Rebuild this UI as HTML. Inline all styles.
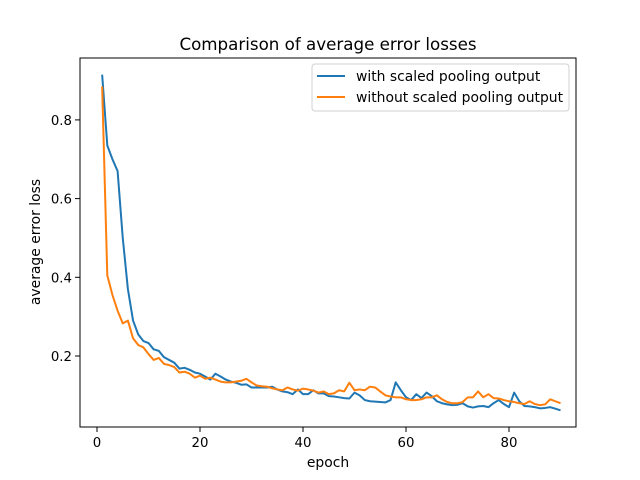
<!DOCTYPE html>
<html><head><meta charset="utf-8"><style>
body{margin:0;background:#fff;}
svg{display:block;font-family:"DejaVu Sans","Liberation Sans",sans-serif;}
</style></head><body>
<svg id="chart" width="640" height="480" viewBox="0 0 640 480">
<rect width="640" height="480" fill="#fff"/>
<text x="328" y="50" font-size="16.7" text-anchor="middle">Comparison of average error losses</text>
<g id="plot"></g>
<rect x="80" y="58" width="496" height="369" fill="none" stroke="#000" stroke-width="1"/>
<text x="328" y="467" font-size="13.9" text-anchor="middle">epoch</text>
<text transform="translate(40,242) rotate(-90)" font-size="13.9" text-anchor="middle">average error loss</text>
<g>
<rect x="312" y="64" width="257" height="47" rx="3" fill="#fff" stroke="#ccc" opacity="0.9"/>
<line x1="317" y1="76" x2="345" y2="76" stroke="#1f77b4" stroke-width="2"/>
<text x="356" y="81" font-size="13.9">with scaled pooling output</text>
<line x1="317" y1="97" x2="345" y2="97" stroke="#ff7f0e" stroke-width="2"/>
<text x="356" y="102" font-size="13.9">without scaled pooling output</text>
</g>
</svg>
<script>
const xTicks=[0,20,40,60,80];
const yTicks=[0.2,0.4,0.6,0.8];
const yTickLabels=["0.2","0.4","0.6","0.8"];
const scaledLoss=[0.915,0.735,0.70,0.67,0.50,0.37,0.29,0.255,0.238,0.233,0.217,0.213,0.197,0.19,0.183,0.168,0.17,0.165,0.158,0.155,0.148,0.14,0.155,0.148,0.14,0.135,0.132,0.127,0.128,0.12,0.12,0.12,0.12,0.122,0.115,0.11,0.108,0.103,0.115,0.103,0.103,0.113,0.105,0.105,0.098,0.097,0.095,0.093,0.092,0.107,0.1,0.088,0.085,0.084,0.083,0.082,0.088,0.133,0.113,0.095,0.088,0.103,0.093,0.107,0.098,0.085,0.08,0.077,0.075,0.076,0.08,0.072,0.069,0.072,0.073,0.07,0.08,0.088,0.078,0.07,0.107,0.085,0.073,0.072,0.07,0.067,0.068,0.07,0.066,0.062];
const unscaledLoss=[0.885,0.405,0.355,0.315,0.283,0.29,0.245,0.228,0.222,0.205,0.19,0.195,0.18,0.177,0.172,0.158,0.16,0.155,0.145,0.15,0.142,0.145,0.14,0.135,0.133,0.133,0.135,0.137,0.142,0.133,0.125,0.123,0.122,0.118,0.115,0.113,0.12,0.115,0.112,0.117,0.115,0.112,0.107,0.11,0.103,0.105,0.113,0.11,0.132,0.113,0.115,0.113,0.122,0.12,0.11,0.1,0.097,0.095,0.095,0.09,0.088,0.088,0.09,0.095,0.095,0.1,0.09,0.083,0.08,0.08,0.083,0.095,0.095,0.11,0.095,0.103,0.093,0.092,0.088,0.085,0.083,0.08,0.078,0.085,0.078,0.075,0.077,0.09,0.085,0.08];
const NS="http://www.w3.org/2000/svg";
const xs=v=>97+v*5.15;
const ys=v=>434.7-v*393.5;
const g=document.getElementById('plot');
function mk(t,a){const e=document.createElementNS(NS,t);for(const k in a)e.setAttribute(k,a[k]);return e;}
xTicks.forEach(t=>{
  const l=mk('line',{x1:xs(t),x2:xs(t),y1:427,y2:432,stroke:'#000'});
  
  
  g.appendChild(l);
  const tx=mk('text',{x:xs(t),y:447,'font-size':13.3,'text-anchor':'middle'});tx.textContent=t;
  
  
  g.appendChild(tx);
});
yTicks.forEach((t,i)=>{
  const l=mk('line',{x1:75,x2:80,y1:ys(t),y2:ys(t),stroke:'#000'});
  
  
  g.appendChild(l);
  const tx=mk('text',{x:72,y:ys(t)+5,'font-size':13.3,'text-anchor':'end'});tx.textContent=yTickLabels[i];
  
  
  g.appendChild(tx);
});
function line(data,color,name){
  const p=mk('polyline',{points:data.map((v,i)=>xs(i+1)+','+ys(v)).join(' '),fill:'none',stroke:color,'stroke-width':2,'stroke-linejoin':'round'});
  
  
  g.appendChild(p);
}
line(scaledLoss,'#1f77b4','scaled-loss-line');
line(unscaledLoss,'#ff7f0e','unscaled-loss-line');
</script>
</body></html>
